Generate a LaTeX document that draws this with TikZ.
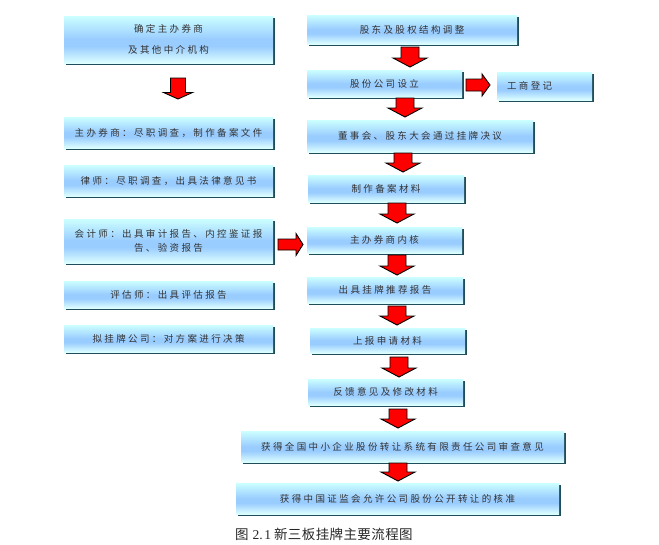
\documentclass[tikz,border=0pt]{standalone}
\usepackage{fontspec}
\setmainfont{Liberation Serif}
\newfontfamily\cjk[LetterSpace=25]{Noto Sans CJK SC}
\newfontfamily\capcjk[LetterSpace=3]{Noto Sans CJK SC}
\usetikzlibrary{shadows}
\definecolor{shadowc}{HTML}{1F4E5A}
\definecolor{bluem}{HTML}{99CCFF}
\definecolor{cyanl}{HTML}{CCFFFF}
\definecolor{cyanw}{HTML}{DDFFFF}
\pgfdeclareverticalshading{boxshade}{100bp}{color(0bp)=(cyanw); color(25bp)=(cyanw); color(43bp)=(bluem); color(50bp)=(bluem); color(75bp)=(cyanl); color(100bp)=(cyanl)}
\tikzset{
  box/.style={shading=boxshade, inner sep=0pt, align=center,
    general shadow={shadow xshift=1.5pt, shadow yshift=-2.2pt, fill=shadowc},
    font=\cjk\fontsize{9.5}{14}\selectfont, text=black!80},
  blockarrow/.style={fill=red, draw=black, line width=0.9pt, line join=miter},
}
\newcommand\dnarrow[6]{\filldraw[blockarrow] ({#1-#5},#2) -- ({#1+#5},#2) -- ({#1+#5},{#3-#6}) -- ({#1+#4},{#3-#6}) -- (#1,#3) -- ({#1-#4},{#3-#6}) -- ({#1-#5},{#3-#6}) -- cycle;}
\newcommand\rtarrow[6]{\filldraw[blockarrow] (#1,{#2-#5}) -- ({#3-#6},{#2-#5}) -- ({#3-#6},{#2-#4}) -- (#3,#2) -- ({#3-#6},{#2+#4}) -- ({#3-#6},{#2+#5}) -- (#1,{#2+#5}) -- cycle;}
\begin{document}
\begin{tikzpicture}[x=1pt,y=-1pt]
\useasboundingbox (0,0) rectangle (659,544);
% left column
\node[box, minimum width=209pt, minimum height=47pt] (L1) at (168.5,39.5) {确定主办券商\\[7pt]及其他中介机构};
\node[box, minimum width=209pt, minimum height=31pt] (L2) at (168.5,132.5) {主办券商：尽职调查，制作备案文件};
\node[box, minimum width=209pt, minimum height=31pt] (L3) at (168.5,180.5) {律师：尽职调查，出具法律意见书};
\node[box, minimum width=209pt, minimum height=44pt] (L4) at (168.5,241) {会计师：出具审计报告、内控鉴证报\\告、验资报告};
\node[box, minimum width=209pt, minimum height=27pt] (L5) at (168.5,294.5) {评估师：出具评估报告};
\node[box, minimum width=209pt, minimum height=27pt] (L6) at (168.5,338.5) {拟挂牌公司：对方案进行决策};
% right column
\node[box, minimum width=210pt, minimum height=29pt] (A) at (412,29.5) {股东及股权结构调整};
\node[box, minimum width=155pt, minimum height=27pt] (B) at (384.5,83.5) {股份公司设立};
\node[box, minimum width=95pt, minimum height=28pt, text width=75pt, inner xsep=10pt, align=left] (C) at (544.5,86) {工商登记};
\node[box, minimum width=226pt, minimum height=32pt] (D) at (420,136) {董事会、股东大会通过挂牌决议};
\node[box, minimum width=156pt, minimum height=27pt] (E) at (386,188.5) {制作备案材料};
\node[box, minimum width=155pt, minimum height=26pt] (F) at (384.5,240) {主办券商内核};
\node[box, minimum width=156pt, minimum height=26pt] (G) at (385,290) {出具挂牌推荐报告};
\node[box, minimum width=155pt, minimum height=25pt] (H) at (387.5,340.5) {上报申请材料};
\node[box, minimum width=155pt, minimum height=26pt] (I) at (385.5,392) {反馈意见及修改材料};
\node[box, minimum width=323pt, minimum height=31pt] (J) at (402.5,446.5) {获得全国中小企业股份转让系统有限责任公司审查意见};
\node[box, minimum width=323pt, minimum height=31pt] (K) at (397.5,498.5) {获得中国证监会允许公司股份公开转让的核准};
% block arrows
\dnarrow{178}{78}{99}{14.5}{7.5}{6.5}
\dnarrow{410}{47}{67}{17}{9}{9}
\dnarrow{405}{98}{117}{17}{9}{9}
\dnarrow{403}{153}{172}{17}{9}{9}
\dnarrow{397}{203}{223}{17}{9}{9}
\dnarrow{397}{255}{275}{17}{9}{9}
\dnarrow{397}{306}{325}{17}{9}{9}
\dnarrow{399}{357}{377}{17}{9}{9}
\dnarrow{398}{409}{428}{17}{9}{9}
\dnarrow{398}{463}{481}{17}{9}{9}
\rtarrow{466}{85}{490}{11}{6}{8}
\rtarrow{278}{244.5}{303}{11}{5.5}{7}
% caption
\node[anchor=west, inner sep=0pt, font=\fontsize{13.5}{13.5}\selectfont, text=black!85] (cap) at (235,534) {{\capcjk 图}\hspace{4pt}2.\hspace{1.5pt}1\hspace{3pt}{\capcjk 新三板挂牌主要流程图}};
\end{tikzpicture}
\end{document}
